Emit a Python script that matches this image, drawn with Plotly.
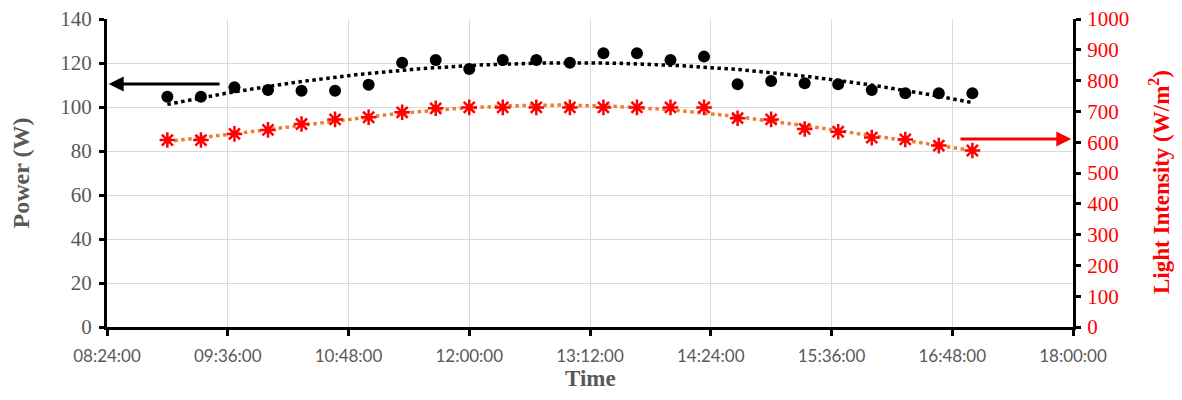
import numpy as np
import pandas as pd
import plotly.graph_objects as go

# ---- data ----
times = ["09:00", "09:20", "09:40", "10:00", "10:20", "10:40", "11:00", "11:20", "11:40",
         "12:00", "12:20", "12:40", "13:00", "13:20", "13:40", "14:00", "14:20", "14:40",
         "15:00", "15:20", "15:40", "16:00", "16:20", "16:40", "17:00"]
power = [104.7, 104.7, 109.0, 107.7, 107.4, 107.4, 110.1, 120.1, 121.4, 117.3, 121.4, 121.4,
         120.1, 124.4, 124.4, 121.4, 122.9, 110.3, 111.8, 110.8, 110.3, 107.7, 106.2, 106.2, 106.2]
light = [607, 607, 627, 640, 659, 674, 681, 697, 710, 713, 713, 713, 713, 713, 713, 713, 713,
         678, 674, 643, 634, 615, 609, 589, 573]
left_ticks = [0, 20, 40, 60, 80, 100, 120, 140]
right_ticks = [0, 100, 200, 300, 400, 500, 600, 700, 800, 900, 1000]

day = "2020-01-01 "
x = pd.to_datetime([day + t for t in times])
hours = np.array([t.hour + t.minute / 60 for t in x])

# polynomial trendlines (as in the spreadsheet)
hh = np.linspace(hours.min(), hours.max(), 200)
p_fit = np.polyval(np.polyfit(hours, power, 2), hh)
l_fit = np.polyval(np.polyfit(hours, light, 4), hh)
xx = pd.Timestamp(day + "00:00") + pd.to_timedelta(hh, unit="h")

GRAY = "#595959"
SERIF = "Liberation Serif, Times New Roman, serif"

fig = go.Figure()
fig.add_trace(go.Scatter(x=xx, y=p_fit, mode="lines", yaxis="y",
                         line=dict(color="black", width=3.5, dash="dot"), showlegend=False))
fig.add_trace(go.Scatter(x=xx, y=l_fit, mode="lines", yaxis="y2",
                         line=dict(color="#ED7D31", width=3.5, dash="dot"), showlegend=False))
fig.add_trace(go.Scatter(x=x, y=power, mode="markers", yaxis="y", name="Power",
                         marker=dict(symbol="circle", size=12, color="black"), showlegend=False))
fig.add_trace(go.Scatter(x=x, y=light, mode="markers", yaxis="y2", name="Light Intensity",
                         marker=dict(symbol="asterisk-open", size=13, color="red",
                                     line=dict(color="red", width=2.5)), showlegend=False))

# the page body adds an 8px margin on every side, so the figure is sized to fit inside it
fig.update_layout(
    width=1166, height=384,
    margin=dict(l=99, r=101, t=11, b=65, autoexpand=False),
    paper_bgcolor="white", plot_bgcolor="white",
    xaxis=dict(
        type="date", automargin=False,
        range=[day + "08:24:00", day + "18:00:00"],
        tick0=day + "08:24:00", dtick=72 * 60 * 1000,
        tickformat="%H:%M:%S",
        showgrid=True, gridcolor="#d9d9d9", gridwidth=1,
        showline=True, linecolor="black", linewidth=3,
        ticks="outside", ticklen=6, tickwidth=3, tickcolor="black",
        ticklabelstandoff=6, ticklabeloverflow="allow",
        tickfont=dict(family="Lato, sans-serif", size=17, color=GRAY),
        zeroline=False,
    ),
    yaxis=dict(
        range=[0, 140], tickvals=left_ticks, automargin=False,
        showgrid=True, gridcolor="#d9d9d9", gridwidth=1,
        showline=True, linecolor="black", linewidth=3,
        ticks="outside", ticklen=5, tickwidth=3, tickcolor="black",
        ticklabelstandoff=3, ticklabeloverflow="allow",
        tickfont=dict(family=SERIF, size=21, color=GRAY),
        title=dict(text="<b>Power (W)</b>", font=dict(family=SERIF, size=24, color=GRAY), standoff=24),
        zeroline=False,
    ),
    yaxis2=dict(
        range=[0, 1000], tickvals=right_ticks, overlaying="y", side="right", automargin=False,
        showgrid=False,
        showline=True, linecolor="black", linewidth=3,
        ticks="outside", ticklen=5, tickwidth=3, tickcolor="black",
        ticklabelstandoff=2, ticklabeloverflow="allow",
        tickfont=dict(family=SERIF, size=21, color="red"),
        zeroline=False,
    ),
)

# axis titles placed as annotations so they sit where the reference has them
fig.add_annotation(text="<b>Time</b>", xref="paper", yref="paper", x=0.5, y=0,
                   xanchor="center", yanchor="middle", yshift=-51, showarrow=False,
                   font=dict(family=SERIF, size=23, color=GRAY))
fig.add_annotation(text="<b>Light Intensity (W/m<sup>2</sup>)</b>", textangle=-90,
                   xref="paper", yref="paper", x=1, y=0.5, xanchor="center", yanchor="middle",
                   xshift=86, yshift=-9, showarrow=False,
                   font=dict(family=SERIF, size=23, color="red"))

# arrows pointing to the relevant axes
fig.add_annotation(x=day + "08:25:00", y=110.5, ax=day + "09:32:00", ay=110.5,
                   xref="x", yref="y", axref="x", ayref="y", text="", showarrow=True,
                   arrowhead=2, arrowsize=1, arrowwidth=3, arrowcolor="black")
fig.add_annotation(x=day + "17:59:00", y=610, ax=day + "16:52:00", ay=610,
                   xref="x", yref="y2", axref="x", ayref="y2", text="", showarrow=True,
                   arrowhead=2, arrowsize=1, arrowwidth=3, arrowcolor="red")

fig.write_html("out.html")
